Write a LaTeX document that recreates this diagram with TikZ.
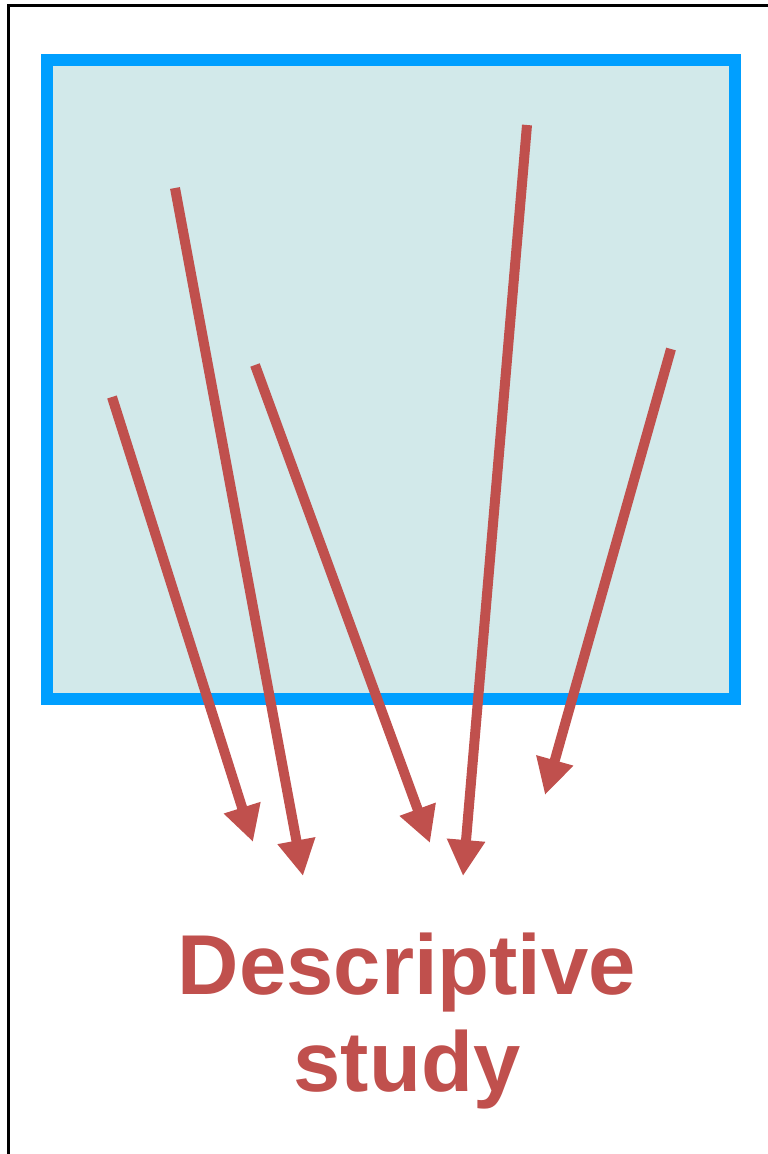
\documentclass[tikz,border=0pt]{standalone}
\usepackage{fontspec}
\setmainfont{Liberation Sans}
\usetikzlibrary{arrows.meta}

\definecolor{arrowred}{HTML}{C0504D}
\definecolor{boxblue}{HTML}{009FFF}
\definecolor{boxfill}{HTML}{D2E9EA}

\tikzset{
    pointer/.style={draw=arrowred, line width=10pt, -{Triangle[length=36pt, width=36pt]}},
}

\begin{document}
\begin{tikzpicture}[x=1pt, y=-1pt]
    \useasboundingbox (0,0) rectangle (768,1154);
    % outer frame, only the left and top edges show
    \path[draw, line width=3pt](8,1160)--(8,5)--(775,5);
    % population box
    \path[draw=boxblue, fill=boxfill, line width=12pt](47,60) rectangle (735,699);
    % start and end points of the pointers
    \coordinate (s1) at (112,397);  \coordinate (e1) at (253,842);
    \coordinate (s2) at (175,188);  \coordinate (e2) at (303,876);
    \coordinate (s3) at (255,365);  \coordinate (e3) at (430,843);
    \coordinate (s4) at (527,125);  \coordinate (e4) at (463,876);
    \coordinate (s5) at (671,349);  \coordinate (e5) at (545,795);
    \path[pointer](s1)--(e1);
    \path[pointer](s2)--(e2);
    \path[pointer](s3)--(e3);
    \path[pointer](s4)--(e4);
    \path[pointer](s5)--(e5);
    \node[text=arrowred, align=center, font=\fontsize{85}{97}\selectfont\bfseries](study) at (407,1021){Descriptive\\study};
\end{tikzpicture}
\end{document}
